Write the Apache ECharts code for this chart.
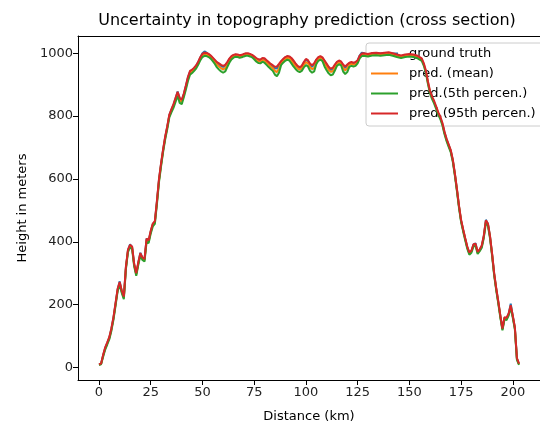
<!DOCTYPE html>
<html>
<head>
<meta charset="utf-8">
<script src="https://cdn.jsdelivr.net/npm/echarts@6/dist/echarts.min.js"></script>
<style>html,body{margin:0;padding:0;background:#fff;}#c{width:540px;height:428px;}</style>
</head>
<body>
<div id="c"></div>
<script>
const distances = [
0,1,2,3,4,5,6,7,8,9,10,11,12,13,14,15,16,17,18,19,20,21,22,23,24,25,26,27,28,29,
30,31,32,33,34,35,36,37,38,39,40,41,42,43,44,45,46,47,48,49,50,51,52,53,54,55,56,57,58,59,
60,61,62,63,64,65,66,67,68,69,70,71,72,73,74,75,76,77,78,79,80,81,82,83,84,85,86,87,88,89,
90,91,92,93,94,95,96,97,98,99,100,101,102,103,104,105,106,107,108,109,110,111,112,113,114,115,116,117,118,119,
120,121,122,123,124,125,126,127,128,130,132,134,136,138,140,142,144,146,148,150,152,154,
155,156,157,158,159,160,161,162,163,164,165,166,167,168,169,170,171,172,173,174,
175,176,177,178,179,180,181,182,183,184,185,186,187,188,189,190,191,192,193,194,
195,196,197,198,199,200,201,202,203];

const groundTruth = [
10,12,39,62,78,95,123,158,203,248,
274,243,223,318,373,392,383,328,298,333,
365,348,343,410,403,433,456,464,528,598,
648,693,733,766,803,820,836,856,878,856,
850,870,896,923,942,946,952,960,972,987,
1000,1006,1002,996,991,984,977,970,965,960,
957,961,970,981,989,993,995,994,992,993,
996,998,998,996,993,988,983,979,978,983,
982,976,970,964,958,952,952,962,973,980,
986,990,988,983,975,965,957,953,958,970,
980,976,964,958,964,978,986,989,985,975,
964,953,947,950,961,971,975,972,960,954,
961,968,970,968,970,976,993,1002,1000,
996,999,1000,998,1000,1001,998,994,991,994,996,994,990,
986,982,966,943,908,878,860,846,828,810,
796,776,748,726,708,690,660,616,566,513,
468,438,410,383,364,370,391,395,366,374,
386,418,470,456,416,360,298,250,208,163,
122,158,156,170,203,163,126,28,11];

const predMean = [
9,11,37,60,77,94,121,156,201,246,
268,241,221,316,371,386,381,326,296,331,
360,346,341,405,401,431,454,462,525,595,
645,691,731,764,801,817,832,852,871,850,
845,866,892,919,938,943,949,957,969,983,
994,998,996,993,988,981,973,964,958,953,
949,953,964,977,986,991,993,992,990,991,
994,996,996,994,991,986,980,975,974,979,
977,971,964,958,953,944,940,952,968,976,
982,986,984,977,968,959,952,948,952,964,
972,968,956,950,953,972,982,986,981,968,
957,947,941,943,955,967,971,968,953,946,
952,964,966,964,966,973,988,995,996,
994,997,998,996,998,999,996,992,989,992,994,992,988,
984,980,964,941,906,876,858,844,826,808,
794,774,746,724,706,689,659,615,565,512,
467,437,409,382,363,369,389,391,365,373,
385,417,465,455,415,359,297,249,207,162,
121,157,155,169,195,162,125,27,10];

const pred5th = [
8,10,34,57,73,90,117,152,197,242,
264,237,217,312,367,382,377,322,292,327,
356,342,337,400,396,426,449,457,520,590,
640,686,726,759,796,812,826,845,864,842,
838,860,885,912,932,937,944,952,964,978,
988,992,991,988,983,975,966,955,948,942,
938,942,956,970,980,986,989,988,986,987,
990,992,992,990,987,981,974,969,968,973,
970,963,956,950,944,932,927,938,962,970,
976,980,977,968,958,950,943,940,944,955,
962,958,944,938,942,965,976,980,975,958,
946,936,930,932,945,960,965,962,942,934,
940,957,960,958,960,968,984,991,992,
990,993,994,992,994,995,992,988,985,988,990,988,984,
980,976,960,937,902,872,854,840,822,804,
790,770,742,720,702,685,655,611,561,508,
463,433,405,378,359,365,385,387,361,370,
381,413,461,451,411,355,293,245,203,158,
118,153,151,165,191,158,121,24,8];

const pred95th = [
10,12,40,64,80,97,125,160,205,250,
272,245,225,320,375,390,385,330,300,335,
364,350,345,410,405,435,458,466,530,600,
650,695,735,768,805,822,838,858,877,858,
852,872,898,925,944,948,954,962,974,988,
998,1002,1001,998,993,986,979,972,968,963,
960,963,972,983,991,995,997,996,994,995,
998,1000,1000,998,995,990,985,981,980,985,
984,978,972,966,962,957,958,966,975,982,
988,991,990,985,977,968,960,956,960,972,
982,978,967,962,968,980,988,991,987,977,
967,957,951,954,964,973,977,974,964,958,
964,970,972,970,972,978,992,999,1000,
998,1001,1002,1000,1002,1003,1000,996,993,996,998,996,992,
988,984,968,945,910,880,862,848,830,812,
798,778,750,728,710,692,662,618,568,515,
470,440,412,385,366,372,392,394,368,376,
388,420,468,458,418,362,300,252,210,165,
124,160,158,172,198,165,128,30,12];

const seriesNames = ['ground truth', 'pred. (mean)', 'pred.(5th percen.)', 'pred.(95th percen.)'];
const xTicks = [0, 25, 50, 75, 100, 125, 150, 175, 200];
const yTicks = [0, 200, 400, 600, 800, 1000];

const FONT = 'DejaVu Sans';
const colors = ['#1f77b4', '#ff7f0e', '#2ca02c', '#d62728'];
const seriesData = [groundTruth, predMean, pred5th, pred95th];

function pairs(vals) { return distances.map((d, i) => [d, vals[i]]); }

const chart = echarts.init(document.getElementById('c'), null, {renderer: 'canvas'});

const lineSeries = seriesNames.map((name, k) => ({
  name: name,
  type: 'line',
  data: pairs(seriesData[k]),
  showSymbol: false,
  symbol: 'none',
  smooth: false,
  color: colors[k],
  lineStyle: {width: 2, color: colors[k]},
  z: 3 + k,
  animation: false
}));

const bandSeries = {
  name: 'band',
  type: 'custom',
  silent: true,
  animation: false,
  z: 2,
  data: [[0, 0]],
  encode: {x: 0, y: 1},
  clip: true,
  renderItem: function (params, api) {
    const pts = [];
    for (let i = 0; i < distances.length; i++) pts.push(api.coord([distances[i], pred95th[i]]));
    for (let i = distances.length - 1; i >= 0; i--) pts.push(api.coord([distances[i], pred5th[i]]));
    return {type: 'polygon', shape: {points: pts}, style: {fill: 'rgba(44,160,44,0.22)'}};
  }
};

const plainLabel = v => String(v);

chart.setOption({
  animation: false,
  backgroundColor: '#fff',
  title: {
    text: 'Uncertainty in topography prediction (cross section)',
    left: 307, top: 13, textAlign: 'center', padding: 0,
    textStyle: {fontFamily: FONT, fontSize: 16, fontWeight: 'normal', color: '#000'}
  },
  grid: {left: 78, top: 36, width: 470, height: 350, show: false},
  legend: {
    data: seriesNames,
    orient: 'vertical',
    left: 366, top: 43,
    padding: [3, 8, 5, 5],
    itemGap: 5,
    itemWidth: 27, itemHeight: 2,
    icon: 'rect',
    backgroundColor: 'rgba(255,255,255,0.8)',
    borderColor: '#cccccc', borderWidth: 1, borderRadius: 3,
    textStyle: {fontFamily: FONT, fontSize: 13, color: '#000', lineHeight: 15, padding: [0, 0, 0, 6]}
  },
  xAxis: [{
    type: 'value', min: -10.15, max: 213.15, position: 'bottom',
    name: 'Distance (km)', nameLocation: 'middle', nameGap: 30,
    nameTextStyle: {fontFamily: FONT, fontSize: 13, color: '#000'},
    axisLine: {show: true, onZero: false, lineStyle: {color: '#000', width: 1}},
    axisTick: {show: true, length: 5, inside: false, customValues: xTicks, lineStyle: {color: '#000'}},
    axisLabel: {customValues: xTicks, formatter: plainLabel, fontFamily: FONT, fontSize: 13, color: '#222', margin: 6},
    splitLine: {show: false}
  }, {
    type: 'value', min: -10.15, max: 213.15, position: 'top',
    axisLine: {show: true, onZero: false, lineStyle: {color: '#000', width: 1}},
    axisTick: {show: false}, axisLabel: {show: false}, splitLine: {show: false}
  }],
  yAxis: {
    type: 'value', min: -40, max: 1055,
    name: 'Height in meters', nameLocation: 'middle', nameGap: 42, nameRotate: 90,
    nameTextStyle: {fontFamily: FONT, fontSize: 13, color: '#000'},
    axisLine: {show: true, onZero: false, lineStyle: {color: '#000', width: 1}},
    axisTick: {show: true, length: 5, inside: false, customValues: yTicks, lineStyle: {color: '#000'}},
    axisLabel: {customValues: yTicks, formatter: plainLabel, fontFamily: FONT, fontSize: 13, color: '#222', margin: 5},
    splitLine: {show: false}
  },
  series: [bandSeries].concat(lineSeries)
});
</script>
</body>
</html>
